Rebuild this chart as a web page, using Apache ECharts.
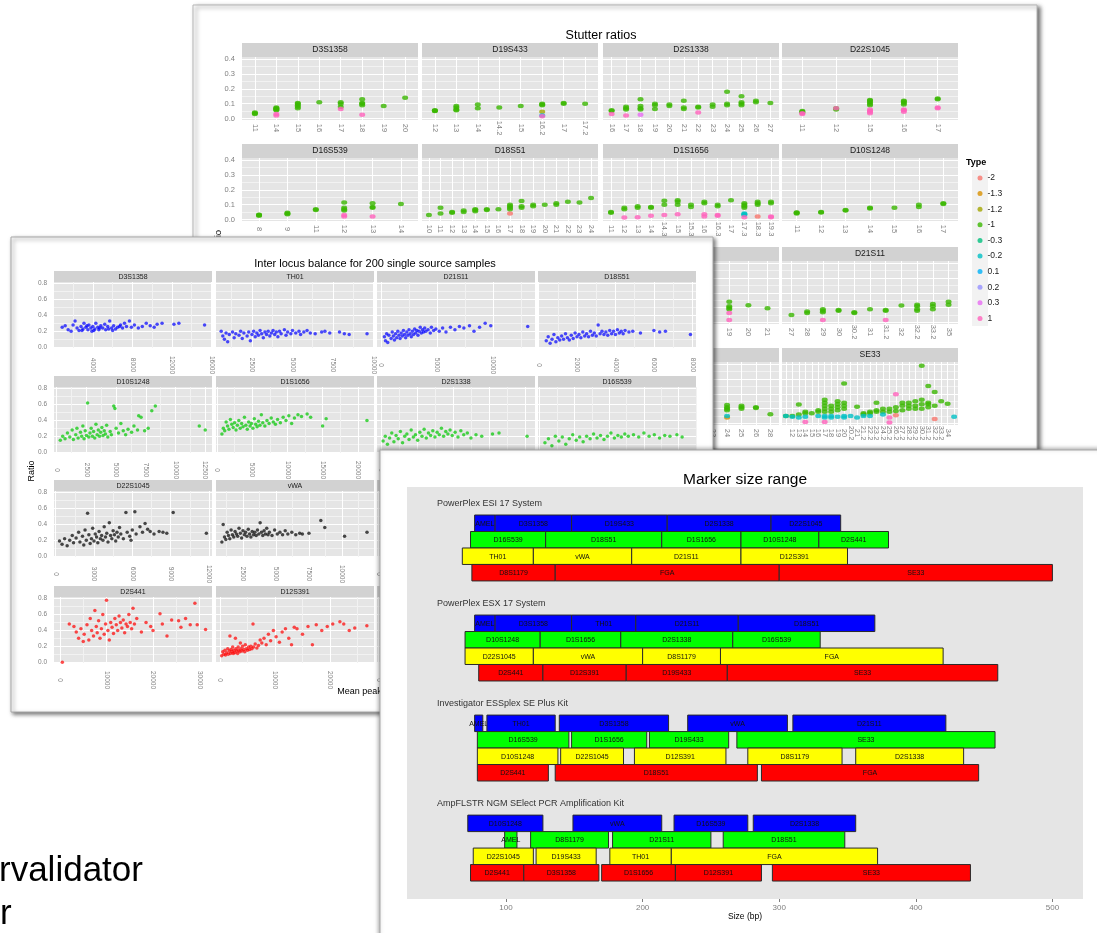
<!DOCTYPE html>
<html>
<head>
<meta charset="utf-8">
<script src="https://cdn.jsdelivr.net/npm/echarts@6/dist/echarts.min.js"></script>
<style>
  html, body { margin: 0; padding: 0; background: #fff; }
  #main { width: 1097px; height: 933px; }
</style>
</head>
<body>
<div id="main"></div>
<script>
// ---------- Stutter ratios ----------
const typeLevels = ['-2', '-1.3', '-1.2', '-1', '-0.3', '-0.2', '0.1', '0.2', '0.3', '1'];
const typeColors = ['#F8766D', '#D89000', '#A3A500', '#39B600', '#00BF7D', '#00BFC4', '#00B0F6', '#9590FF', '#E76BF3', '#FF62BC'];

// [allele, stutter type, ratio, ratio, ...]
const stD3S1358Alleles = ['11', '14', '15', '16', '17', '18', '19', '20'];
const stD3S1358 = [
  ['11', -1, 0.03, 0.035, 0.04], ['14', -1, 0.055, 0.06, 0.065, 0.07, 0.075], ['14', 1, 0.02, 0.03],
  ['15', -1, 0.07, 0.08, 0.09, 0.1, 0.105], ['16', -1, 0.11], ['17', -1, 0.08, 0.1, 0.11], ['17', 1, 0.065],
  ['18', -1, 0.09, 0.1, 0.105, 0.13], ['18', 1, 0.025], ['19', -1, 0.085], ['20', -1, 0.14]
];
const stD19S433Alleles = ['12', '13', '14', '14.2', '15', '16.2', '17', '17.2'];
const stD19S433 = [
  ['12', -1, 0.05, 0.052, 0.055], ['13', -1, 0.055, 0.06, 0.075, 0.085], ['14', -1, 0.07, 0.095],
  ['14.2', -1, 0.075], ['15', -1, 0.085], ['16.2', -1, 0.09, 0.095, 0.1], ['16.2', -1.2, 0.045],
  ['16.2', 1, 0.015], ['16.2', 0.1, 0.02], ['17', -1, 0.1, 0.105], ['17.2', -1, 0.1]
];
const stD2S1338Alleles = ['16', '17', '18', '19', '20', '21', '22', '23', '24', '25', '26', '27'];
const stD2S1338 = [
  ['16', -1, 0.05, 0.055], ['16', 1, 0.03], ['17', -1, 0.06, 0.07, 0.08], ['17', 1, 0.02],
  ['18', -1, 0.06, 0.07, 0.085, 0.13], ['18', 0.3, 0.025], ['19', -1, 0.065, 0.09, 0.1],
  ['20', -1, 0.085, 0.095], ['21', -1, 0.065, 0.075, 0.12], ['22', -1, 0.075, 0.08], ['22', 1, 0.04],
  ['23', -1, 0.08, 0.095], ['24', -1, 0.09, 0.1, 0.18], ['25', -1, 0.09, 0.1, 0.11, 0.15],
  ['26', -1, 0.11, 0.12], ['27', -1, 0.105]
];
const stD22S1045Alleles = ['11', '12', '15', '16', '17'];
const stD22S1045 = [
  ['11', -1, 0.04, 0.045, 0.05], ['11', 1, 0.03, 0.035], ['12', -1, 0.06, 0.07], ['12', 1, 0.07],
  ['15', -1, 0.09, 0.1, 0.11, 0.12, 0.125], ['15', 1, 0.035, 0.045, 0.05, 0.06],
  ['16', -1, 0.095, 0.105, 0.115, 0.12], ['16', 1, 0.045, 0.055, 0.06],
  ['17', -1, 0.13, 0.135], ['17', 1, 0.07, 0.075]
];
const stD16S539Alleles = ['8', '9', '11', '12', '13', '14'];
const stD16S539 = [
  ['8', -1, 0.025, 0.03, 0.032], ['9', -1, 0.035, 0.04, 0.045], ['11', -1, 0.065, 0.07],
  ['12', -1, 0.06, 0.07, 0.08, 0.115], ['12', 1, 0.02, 0.03], ['13', -1, 0.08, 0.085, 0.11],
  ['13', 1, 0.02], ['14', -1, 0.105]
];
const stD18S51Alleles = ['10', '11', '12', '13', '14', '15', '16', '17', '18', '19', '20', '21', '22', '23', '24'];
const stD18S51 = [
  ['10', -1, 0.03], ['11', -1, 0.04, 0.08], ['12', -1, 0.045, 0.05], ['13', -1, 0.05, 0.06],
  ['14', -1, 0.055, 0.065, 0.07], ['15', -1, 0.065, 0.07], ['16', -1, 0.07],
  ['17', -1, 0.07, 0.08, 0.09, 0.1], ['17', -2, 0.04], ['18', -1, 0.08, 0.09, 0.125],
  ['19', -1, 0.09, 0.1], ['20', -1, 0.1], ['21', -1, 0.1, 0.11], ['22', -1, 0.12],
  ['23', -1, 0.115], ['24', -1, 0.145]
];
const stD1S1656Alleles = ['11', '12', '13', '14', '14.3', '15', '15.3', '16', '16.3', '17', '17.3', '18.3', '19.3'];
const stD1S1656 = [
  ['11', -1, 0.045, 0.05], ['12', -1, 0.07, 0.08], ['12', 1, 0.013], ['13', -1, 0.08, 0.09], ['13', 1, 0.015],
  ['14', -1, 0.08, 0.085], ['14', 1, 0.025], ['14.3', -1, 0.1, 0.127], ['14.3', 1, 0.03],
  ['15', -1, 0.1, 0.12, 0.13], ['15', 1, 0.035], ['15.3', -1, 0.085, 0.1],
  ['16', -1, 0.11, 0.12], ['16', 1, 0.02, 0.035], ['16.3', -1, 0.09, 0.1], ['16.3', 1, 0.025, 0.03],
  ['17', -1, 0.13], ['17.3', -1, 0.08, 0.09, 0.1, 0.11], ['17.3', -0.2, 0.03, 0.035, 0.04], ['17.3', 1, 0.015],
  ['18.3', -1, 0.1, 0.11, 0.12], ['18.3', -2, 0.02], ['19.3', -1, 0.11, 0.12], ['19.3', 1, 0.015, 0.02]
];
const stD10S1248Alleles = ['11', '12', '13', '14', '15', '16', '17'];
const stD10S1248 = [
  ['11', -1, 0.04, 0.045, 0.047], ['12', -1, 0.048, 0.05], ['13', -1, 0.06, 0.065], ['14', -1, 0.075, 0.08],
  ['15', -1, 0.08], ['16', -1, 0.085, 0.1], ['17', -1, 0.105, 0.11]
];
const stVWAAlleles = ['13', '14', '15', '16', '17', '18', '19', '20', '21'];
const stVWA = [
  ['19', -1, 0.09, 0.1, 0.11, 0.14], ['19', 1, 0.065, 0.017], ['20', -1, 0.117], ['21', -1, 0.097]
];
const stD21S11Alleles = ['27', '28', '29', '30', '30.2', '31', '31.2', '32', '32.2', '33.2', '35'];
const stD21S11 = [
  ['27', -1, 0.05], ['28', -1, 0.065, 0.075], ['29', -1, 0.07, 0.08, 0.09], ['29', 1, 0.017],
  ['30', -1, 0.08, 0.085], ['30.2', -1, 0.065, 0.07], ['31', -1, 0.09], ['31.2', -1, 0.08, 0.085],
  ['31.2', 1, 0.017], ['32', -1, 0.115], ['32.2', -1, 0.08, 0.09, 0.11, 0.12],
  ['33.2', -1, 0.09, 0.11, 0.125], ['35', -1, 0.12, 0.14]
];
const stFGAAlleles = ['17', '18', '19', '20', '21', '22', '22.2', '23', '24', '25', '26', '28'];
const stFGA = [
  ['24', -1, 0.09, 0.1, 0.11, 0.125], ['24', -0.2, 0.05], ['24', -1.3, 0.04],
  ['25', -1, 0.1, 0.11, 0.12], ['26', -1, 0.105, 0.11], ['28', -1, 0.063]
];
const stSE33Alleles = ['11', '12', '13', '14', '15', '16', '17', '18', '19', '20', '20.2', '21', '21.2', '22.2',
  '23.2', '24.2', '25.2', '26.2', '27.2', '28.2', '29.2', '30.2', '31.2', '32.2', '33.2', '34', '35'];
const stSE33 = [
  ['11', -1, 0.05], ['11', -0.2, 0.05], ['12', -1, 0.05], ['12', -0.2, 0.045],
  ['13', -1, 0.06, 0.128], ['13', -0.2, 0.04], ['14', -1, 0.07, 0.08], ['14', -0.2, 0.045], ['14', 1, 0.01],
  ['15', -1, 0.07], ['16', -1, 0.08, 0.09], ['16', -0.2, 0.05],
  ['17', -1, 0.08, 0.1, 0.12, 0.14, 0.16], ['17', -0.2, 0.04, 0.05], ['17', 1, 0.01],
  ['18', -1, 0.08, 0.1, 0.12], ['18', -0.2, 0.04, 0.05], ['19', -1, 0.09, 0.11, 0.13, 0.15], ['19', -0.2, 0.045],
  ['20', -1, 0.1, 0.12, 0.14, 0.27], ['20', -0.2, 0.04, 0.05], ['20.2', -0.2, 0.05],
  ['21', -1, 0.113], ['21', -0.2, 0.04], ['21.2', -1, 0.06, 0.07], ['21.2', -0.2, 0.05],
  ['22.2', -1, 0.07, 0.08], ['22.2', -0.2, 0.05], ['23.2', -1, 0.08, 0.09, 0.14],
  ['24.2', -1, 0.08, 0.1], ['24.2', -0.2, 0.06], ['25.2', -1, 0.08, 0.1], ['25.2', 1, 0.007, 0.04],
  ['26.2', -1, 0.085, 0.11], ['26.2', -2, 0.055], ['26.2', 1, 0.197], ['27.2', -1, 0.09, 0.12, 0.14],
  ['28.2', -1, 0.1, 0.12, 0.14], ['29.2', -1, 0.1, 0.12, 0.15], ['30.2', -1, 0.1, 0.13, 0.16, 0.39],
  ['31.2', -1, 0.11, 0.13, 0.14, 0.253], ['32.2', -1, 0.12, 0.212], ['32.2', -2, 0.03],
  ['33.2', -1, 0.15], ['34', -1, 0.134], ['35', -0.2, 0.045]
];
// [name, row, col, alleles, points]
const stutterFacets = [
  ['D3S1358', 0, 0, stD3S1358Alleles, stD3S1358], ['D19S433', 0, 1, stD19S433Alleles, stD19S433],
  ['D2S1338', 0, 2, stD2S1338Alleles, stD2S1338], ['D22S1045', 0, 3, stD22S1045Alleles, stD22S1045],
  ['D16S539', 1, 0, stD16S539Alleles, stD16S539], ['D18S51', 1, 1, stD18S51Alleles, stD18S51],
  ['D1S1656', 1, 2, stD1S1656Alleles, stD1S1656], ['D10S1248', 1, 3, stD10S1248Alleles, stD10S1248],
  ['vWA', 2, 2, stVWAAlleles, stVWA], ['D21S11', 2, 3, stD21S11Alleles, stD21S11],
  ['FGA', 3, 2, stFGAAlleles, stFGA], ['SE33', 3, 3, stSE33Alleles, stSE33]
];
const stutterYTicks = [0, 0.1, 0.2, 0.3, 0.4];

// ---------- Inter locus balance ----------
const ilD3S1358 = [[900,0.25],[1200,0.27],[1500,0.22],[1800,0.2],[2000,0.28],[2200,0.33],[2400,0.24],[2600,0.21],[2800,0.26],[3000,0.23],[3100,0.3],[3300,0.25],[3500,0.22],[3600,0.28],[3800,0.24],[3900,0.2],[4000,0.26],[4200,0.23],[4300,0.3],[4500,0.25],[4600,0.22],[4800,0.27],[5000,0.24],[5200,0.29],[5300,0.22],[5500,0.26],[5700,0.33],[5900,0.24],[6100,0.27],[6300,0.23],[6500,0.25],[6800,0.28],[7000,0.24],[7200,0.3],[7400,0.26],[7700,0.33],[7900,0.25],[8200,0.28],[8600,0.24],[9000,0.26],[9400,0.3],[9800,0.27],[10200,0.25],[10500,0.29],[11000,0.3],[12200,0.29],[12700,0.3],[15300,0.28],[2900,0.21],[3400,0.27],[4100,0.21],[4700,0.24],[5600,0.23],[6000,0.21],[6700,0.26]];
const ilTH01 = [[600,0.2],[700,0.14],[800,0.1],[900,0.18],[1000,0.07],[1100,0.16],[1300,0.19],[1400,0.12],[1500,0.17],[1700,0.15],[1800,0.2],[1900,0.11],[2000,0.18],[2200,0.14],[2300,0.19],[2400,0.08],[2500,0.16],[2600,0.2],[2700,0.13],[2800,0.18],[2900,0.15],[3000,0.21],[3100,0.17],[3200,0.12],[3300,0.19],[3400,0.16],[3500,0.2],[3600,0.14],[3700,0.18],[3800,0.21],[3900,0.16],[4000,0.19],[4100,0.13],[4200,0.2],[4300,0.17],[4500,0.22],[4600,0.15],[4700,0.19],[4900,0.17],[5000,0.21],[5200,0.18],[5400,0.2],[5500,0.16],[5700,0.19],[5900,0.21],[6100,0.18],[6400,0.17],[6800,0.19],[7000,0.2],[7300,0.18],[7900,0.19],[8200,0.17],[8500,0.16],[9600,0.17]];
const ilD21S11 = [[300,0.13],[400,0.08],[500,0.17],[600,0.06],[700,0.15],[900,0.11],[1000,0.19],[1100,0.14],[1200,0.09],[1300,0.17],[1400,0.12],[1500,0.2],[1600,0.15],[1700,0.11],[1800,0.18],[1900,0.14],[2000,0.21],[2100,0.16],[2200,0.12],[2300,0.19],[2400,0.15],[2500,0.22],[2600,0.17],[2700,0.13],[2800,0.2],[2900,0.16],[3000,0.23],[3100,0.18],[3200,0.21],[3300,0.15],[3400,0.2],[3500,0.25],[3600,0.18],[3700,0.22],[3800,0.19],[3900,0.24],[4000,0.2],[4200,0.22],[4400,0.18],[4500,0.25],[4700,0.21],[4900,0.23],[5200,0.2],[5500,0.24],[5800,0.19],[6200,0.25],[6600,0.22],[7000,0.26],[7400,0.24],[7900,0.27],[8300,0.2],[8800,0.25],[9300,0.3],[9800,0.27],[13100,0.26]];
const ilD18S51 = [[400,0.08],[500,0.13],[600,0.05],[700,0.1],[800,0.16],[900,0.07],[1000,0.12],[1100,0.09],[1200,0.14],[1300,0.1],[1400,0.17],[1500,0.12],[1600,0.09],[1700,0.15],[1800,0.11],[1900,0.18],[2000,0.13],[2100,0.16],[2200,0.12],[2300,0.19],[2400,0.14],[2500,0.17],[2600,0.13],[2700,0.2],[2800,0.15],[2900,0.18],[3000,0.14],[3100,0.28],[3200,0.17],[3300,0.2],[3400,0.16],[3500,0.19],[3600,0.15],[3700,0.21],[3800,0.17],[3900,0.2],[4000,0.16],[4100,0.22],[4200,0.18],[4300,0.2],[4400,0.17],[4500,0.21],[4700,0.19],[4900,0.2],[5300,0.18],[6000,0.21],[6300,0.19],[6600,0.2],[7900,0.16]];
const ilD10S1248 = [[300,0.15],[500,0.2],[700,0.17],[900,0.24],[1100,0.19],[1300,0.28],[1400,0.16],[1600,0.22],[1700,0.3],[1800,0.18],[2000,0.25],[2100,0.2],[2200,0.33],[2300,0.17],[2400,0.27],[2500,0.21],[2600,0.62],[2700,0.19],[2800,0.24],[2900,0.3],[3000,0.2],[3100,0.26],[3200,0.18],[3300,0.35],[3400,0.22],[3500,0.28],[3600,0.2],[3700,0.25],[3800,0.31],[3900,0.21],[4000,0.27],[4100,0.23],[4200,0.34],[4300,0.19],[4500,0.26],[4600,0.22],[4800,0.58],[4900,0.55],[5000,0.3],[5200,0.24],[5400,0.36],[5600,0.27],[5800,0.22],[6000,0.29],[6300,0.25],[6500,0.33],[6800,0.28],[6900,0.46],[7100,0.44],[7400,0.27],[7700,0.3],[8000,0.52],[8300,0.58],[12000,0.33],[12500,0.28]];
const ilD1S1656 = [[700,0.23],[900,0.3],[1100,0.27],[1300,0.38],[1500,0.33],[1700,0.29],[1900,0.41],[2100,0.35],[2300,0.31],[2500,0.37],[2700,0.28],[2900,0.34],[3100,0.4],[3300,0.3],[3500,0.36],[3700,0.32],[3900,0.44],[4100,0.34],[4300,0.29],[4500,0.38],[4700,0.33],[4900,0.36],[5100,0.3],[5300,0.42],[5500,0.35],[5700,0.32],[5900,0.39],[6100,0.34],[6300,0.47],[6500,0.37],[6800,0.33],[7100,0.4],[7400,0.36],[7700,0.43],[8000,0.38],[8300,0.35],[8600,0.41],[9000,0.37],[9400,0.44],[9800,0.4],[10200,0.46],[10600,0.36],[11000,0.43],[11500,0.47],[12000,0.45],[12800,0.48],[13300,0.44],[15000,0.33],[15500,0.42],[21300,0.4]];
const ilD2S1338 = [[300,0.14],[600,0.2],[900,0.1],[1200,0.18],[1500,0.24],[1800,0.13],[2100,0.21],[2400,0.17],[2700,0.26],[3000,0.12],[3300,0.2],[3600,0.23],[3900,0.16],[4200,0.28],[4500,0.19],[4800,0.22],[5100,0.15],[5400,0.25],[5700,0.2],[6000,0.29],[6300,0.18],[6600,0.24],[6900,0.21],[7200,0.27],[7500,0.19],[7800,0.25],[8100,0.22],[8400,0.3],[8700,0.2],[9000,0.26],[9300,0.23],[9600,0.28],[9900,0.21],[10300,0.25],[10700,0.19],[11100,0.27],[11500,0.22],[12000,0.24],[12500,0.18],[13200,0.22],[14000,0.2],[15500,0.23],[16400,0.24],[20300,0.2]];
const ilD16S539 = [[300,0.12],[500,0.17],[700,0.08],[900,0.2],[1100,0.14],[1300,0.19],[1500,0.1],[1700,0.17],[1900,0.22],[2100,0.15],[2300,0.19],[2500,0.13],[2700,0.2],[2900,0.17],[3100,0.23],[3300,0.18],[3500,0.21],[3700,0.16],[3900,0.2],[4100,0.24],[4300,0.18],[4500,0.21],[4700,0.19],[4900,0.23],[5100,0.2],[5400,0.22],[5700,0.19],[6000,0.24],[6300,0.2],[6600,0.22],[6900,0.18],[7200,0.21],[7500,0.2],[7900,0.22],[8200,0.19]];
const ilD22S1045 = [[300,0.19],[500,0.15],[700,0.22],[900,0.13],[1100,0.2],[1300,0.26],[1400,0.17],[1600,0.23],[1800,0.3],[1900,0.18],[2100,0.25],[2200,0.14],[2300,0.33],[2400,0.2],[2500,0.54],[2600,0.27],[2700,0.16],[2800,0.22],[2900,0.35],[3000,0.19],[3100,0.28],[3200,0.24],[3300,0.17],[3400,0.31],[3500,0.22],[3600,0.26],[3700,0.2],[3800,0.37],[3900,0.24],[4000,0.29],[4100,0.18],[4200,0.42],[4300,0.26],[4400,0.22],[4500,0.32],[4600,0.27],[4700,0.19],[4800,0.3],[4900,0.24],[5000,0.36],[5100,0.28],[5300,0.22],[5500,0.55],[5600,0.3],[5800,0.25],[5900,0.2],[6000,0.33],[6200,0.56],[6300,0.28],[6600,0.37],[6800,0.3],[7000,0.41],[7200,0.34],[7400,0.31],[7700,0.28],[8100,0.31],[8400,0.3],[8700,0.29],[9200,0.55],[11800,0.29]];
const ilVWA = [[900,0.18],[1000,0.4],[1100,0.24],[1200,0.21],[1300,0.3],[1400,0.26],[1500,0.22],[1600,0.33],[1700,0.27],[1800,0.24],[1900,0.31],[2000,0.28],[2100,0.25],[2200,0.35],[2300,0.29],[2400,0.23],[2500,0.32],[2600,0.27],[2700,0.3],[2800,0.25],[2900,0.34],[3000,0.28],[3100,0.24],[3200,0.31],[3300,0.27],[3400,0.3],[3500,0.26],[3600,0.33],[3700,0.28],[3800,0.42],[3900,0.3],[4000,0.26],[4100,0.32],[4200,0.28],[4300,0.35],[4400,0.27],[4500,0.3],[4700,0.26],[4900,0.33],[5100,0.28],[5300,0.3],[5500,0.27],[5700,0.32],[5900,0.28],[6200,0.3],[6500,0.27],[6800,0.29],[7000,0.28],[7500,0.29],[8400,0.45],[8700,0.36],[10200,0.25],[11900,0.3]];
const ilD2S441 = [[500,0.0],[2000,0.48],[3000,0.45],[3500,0.38],[4000,0.3],[4500,0.42],[5000,0.26],[5200,0.35],[5800,0.47],[6200,0.28],[6500,0.55],[6800,0.4],[7200,0.33],[7500,0.65],[7800,0.45],[8000,0.37],[8300,0.52],[8600,0.3],[8900,0.42],[9200,0.6],[9500,0.35],[9800,0.48],[10000,0.78],[10300,0.4],[10600,0.28],[10900,0.5],[11200,0.44],[11500,0.36],[11800,0.55],[12100,0.47],[12400,0.4],[12700,0.58],[13000,0.5],[13300,0.43],[13600,0.53],[13900,0.37],[14200,0.48],[14500,0.45],[14800,0.6],[15100,0.5],[15400,0.42],[15700,0.68],[16000,0.48],[16500,0.55],[17500,0.38],[18500,0.5],[19500,0.45],[20000,0.4],[21500,0.61],[22000,0.48],[23000,0.33],[24000,0.53],[25500,0.52],[26000,0.44],[27000,0.55],[28000,0.47],[29000,0.74],[29500,0.47],[31300,0.41]];
const ilD12S391 = [[300,0.08],[500,0.13],[700,0.1],[900,0.15],[1000,0.09],[1200,0.12],[1400,0.17],[1500,0.1],[1700,0.14],[1800,0.33],[1900,0.11],[2000,0.16],[2200,0.13],[2300,0.19],[2400,0.11],[2500,0.15],[2700,0.12],[2800,0.3],[2900,0.17],[3000,0.14],[3200,0.11],[3300,0.19],[3400,0.15],[3600,0.13],[3700,0.24],[3800,0.17],[4000,0.14],[4100,0.2],[4300,0.16],[4500,0.13],[4600,0.22],[4800,0.17],[5000,0.15],[5200,0.19],[5400,0.16],[5600,0.2],[5800,0.17],[6000,0.48],[6100,0.19],[6400,0.23],[6700,0.18],[7000,0.21],[7300,0.28],[7600,0.24],[8000,0.3],[8400,0.22],[8800,0.35],[9200,0.27],[9700,0.4],[10200,0.32],[10800,0.25],[11300,0.38],[11900,0.42],[12500,0.3],[13000,0.22],[13500,0.44],[14000,0.42],[15000,0.35],[16000,0.45],[16800,0.22],[17500,0.47],[18500,0.4],[19500,0.45],[20500,0.48],[21800,0.51],[22500,0.48],[23500,0.4],[24500,0.43],[26700,0.46]];

const ilLoci = ['D3S1358', 'TH01', 'D21S11', 'D18S51', 'D10S1248', 'D1S1656', 'D2S1338', 'D16S539',
  'D22S1045', 'vWA', 'D8S1179', 'FGA', 'D2S441', 'D12S391', 'D19S433', 'SE33'];
const ilPoints = [ilD3S1358, ilTH01, ilD21S11, ilD18S51, ilD10S1248, ilD1S1656, ilD2S1338, ilD16S539,
  ilD22S1045, ilVWA, [], [], ilD2S441, ilD12S391, [], []];
const ilXMin = [70, 280, -360, -30, -230, -140, -550, -100, -130, 455, -100, -100, -1290, -730, -100, -100];
const ilXMax = [16050, 10030, 13750, 8190, 13070, 22300, 21400, 9000, 12240, 12430, 10000, 10000, 32680, 28000, 10000, 10000];
const ilXStep = [4000, 2500, 5000, 2000, 2500, 5000, 5000, 2000, 3000, 2500, 2500, 2500, 10000, 10000, 2500, 2500];
const ilYTicks = [0, 0.2, 0.4, 0.6, 0.8];
const ilDyeColors = ['#0000FF', '#00C800', '#000000', '#FF0000'];

// ---------- Marker size range ----------
const kitNames = ['PowerPlex ESI 17 System', 'PowerPlex ESX 17 System', 'Investigator ESSplex SE Plus Kit',
  'AmpFLSTR NGM SElect PCR Amplification Kit'];
const dyeColors = ['#0000FF', '#00FF00', '#FFFF00', '#FF0000'];
// [marker, start bp, end bp]
const esiBlue = [['AMEL', 77, 92], ['D3S1358', 92, 148], ['D19S433', 148, 218], ['D2S1338', 218, 294], ['D22S1045', 294, 345]];
const esiGreen = [['D16S539', 74, 129], ['D18S51', 129, 214], ['D1S1656', 214, 272], ['D10S1248', 272, 329], ['D2S441', 329, 380]];
const esiYellow = [['TH01', 68, 120], ['vWA', 120, 192], ['D21S11', 192, 272], ['D12S391', 272, 350]];
const esiRed = [['D8S1179', 75, 136], ['FGA', 136, 300], ['SE33', 300, 500]];
const esxBlue = [['AMEL', 77, 92], ['D3S1358', 92, 148], ['TH01', 148, 195], ['D21S11', 195, 270], ['D18S51', 270, 370]];
const esxGreen = [['D10S1248', 70, 125], ['D1S1656', 125, 184], ['D2S1338', 184, 266], ['D16S539', 266, 330]];
const esxYellow = [['D22S1045', 70, 120], ['vWA', 120, 200], ['D8S1179', 200, 257], ['FGA', 257, 420]];
const esxRed = [['D2S441', 80, 127], ['D12S391', 127, 188], ['D19S433', 188, 262], ['SE33', 262, 460]];
const essBlue = [['AMEL', 77, 83], ['TH01', 86, 136], ['D3S1358', 139, 219], ['vWA', 233, 306], ['D21S11', 310, 422]];
const essGreen = [['D16S539', 79, 146], ['D1S1656', 148, 203], ['D19S433', 205, 263], ['SE33', 269, 458]];
const essYellow = [['D10S1248', 79, 138], ['D22S1045', 140, 186], ['D12S391', 194, 261], ['D8S1179', 277, 346], ['D2S1338', 356, 435]];
const essRed = [['D2S441', 79, 131], ['D18S51', 136, 284], ['FGA', 287, 446]];
const ngmBlue = [['D10S1248', 72, 127], ['vWA', 149, 214], ['D16S539', 223, 277], ['D2S1338', 281, 356]];
const ngmGreen = [['AMEL', 99, 108], ['D8S1179', 118, 175], ['D21S11', 178, 250], ['D18S51', 259, 348]];
const ngmYellow = [['D22S1045', 76, 120], ['D19S433', 122, 166], ['TH01', 176, 221], ['FGA', 221, 372]];
const ngmRed = [['D2S441', 74, 113], ['D3S1358', 113, 168], ['D1S1656', 170, 224], ['D12S391', 224, 287], ['SE33', 295, 440]];
const kitRows = [
  [esiBlue, esiGreen, esiYellow, esiRed],
  [esxBlue, esxGreen, esxYellow, esxRed],
  [essBlue, essGreen, essYellow, essRed],
  [ngmBlue, ngmGreen, ngmYellow, ngmRed]
];
const sizeTicks = [100, 200, 300, 400, 500];

// ---------- build ----------
const FONT = '"Liberation Sans", Arial, sans-serif';
const grid = [], xAxis = [], yAxis = [], series = [], graphic = [];

// tick values at half steps; majors get white lines, minors lighter
function gridLines(min, max, step) {
  const half = step / 2;
  const vals = [];
  for (let k = Math.ceil(min / half - 1e-9); k * half <= max + 1e-9; k++) vals.push(+(k * half).toFixed(6));
  const majors = vals.filter(v => Math.abs(v / step - Math.round(v / step)) < 1e-6);
  const firstMajor = majors.length && vals[0] === majors[0];
  return { vals, majors, colors: firstMajor ? ['#FFFFFF', '#F2F2F2'] : ['#F2F2F2', '#FFFFFF'] };
}

function addText(zlevel, x, y, text, size, opts) {
  graphic.push(Object.assign({
    type: 'text', zlevel, z: 6, x, y, silent: true,
    style: Object.assign({ text, fontSize: size, fontFamily: FONT, fill: '#1A1A1A', align: 'center', verticalAlign: 'middle' }, opts && opts.style)
  }, opts && opts.el));
}

// panel backgrounds (three overlapping screenshots)
graphic.push({ type: 'rect', zlevel: 0, z: 0, silent: true, shape: { x: 193, y: 5, width: 844, height: 444 },
  style: { fill: '#fff', stroke: '#B5B5B5', lineWidth: 1, shadowBlur: 4, shadowOffsetX: 3, shadowOffsetY: 2, shadowColor: 'rgba(0,0,0,0.55)' } });
graphic.push({ type: 'rect', zlevel: 1, z: 0, silent: true, shape: { x: 11, y: 237, width: 702, height: 475 },
  style: { fill: '#fff', stroke: '#A8A8A8', lineWidth: 1, shadowBlur: 4, shadowOffsetX: 2, shadowOffsetY: 2, shadowColor: 'rgba(0,0,0,0.55)' } });
graphic.push({ type: 'rect', zlevel: 2, z: 0, silent: true, shape: { x: 380, y: 450, width: 740, height: 500 },
  style: { fill: '#fff', stroke: '#A8A8A8', lineWidth: 1, shadowBlur: 4, shadowOffsetX: -1, shadowOffsetY: -1, shadowColor: 'rgba(0,0,0,0.35)' } });

// slide text peeking out at bottom left
addText(0, -1, 871, 'rvalidator', 35, { style: { align: 'left', fill: '#000' } });
addText(0, 0, 914, 'r', 35, { style: { align: 'left', fill: '#000' } });

// ----- stutter facets (zlevel 0) -----
const stColLeft = [242, 422, 603, 782], stColW = 176;
const stStripTop = [43, 144, 247, 348], stStripH = 14, stPanelH = 63;
addText(0, 601, 36, 'Stutter ratios', 12.5, { style: { fill: '#000' } });
addText(0, 218, 241, 'Ratio', 9.5, { el: { rotation: Math.PI / 2 }, style: { fill: '#000' } });

stutterFacets.forEach(([name, row, col, alleles, pts]) => {
  const gi = grid.length;
  const left = stColLeft[col], top = stStripTop[row] + stStripH;
  grid.push({ left, top, width: stColW, height: stPanelH, show: true, backgroundColor: '#E5E5E5', borderWidth: 0,
    zlevel: 0, z: 2, outerBoundsMode: 'none', containLabel: false });
  const idx = alleles.map((a, i) => i);
  xAxis.push({ type: 'value', gridIndex: gi, zlevel: 0, z: 3, min: -0.6, max: alleles.length - 0.4,
    axisLine: { show: false, onZero: false }, axisTick: { show: false, customValues: idx },
    axisLabel: { customValues: idx, rotate: -90, align: 'center', verticalAlign: 'middle', margin: 8,
      fontSize: 7.5, fontFamily: FONT, color: '#7F7F7F', formatter: v => alleles[Math.round(v)] || '' },
    splitLine: { show: true, lineStyle: { color: '#FFFFFF', width: 1 } } });
  const yg = gridLines(-0.01, 0.415, 0.1);
  yAxis.push({ type: 'value', gridIndex: gi, zlevel: 0, z: 3, min: -0.01, max: 0.415,
    axisLine: { show: false, onZero: false }, axisTick: { show: false, customValues: yg.vals },
    axisLabel: { show: col === 0, customValues: stutterYTicks, margin: 7, fontSize: 7.5, fontFamily: FONT,
      color: '#7F7F7F', formatter: v => v.toFixed(1) },
    splitLine: { show: true, lineStyle: { color: yg.colors, width: 1 } } });
  typeLevels.forEach((t, ti) => {
    const data = [];
    pts.forEach(p => {
      if (String(p[1]) !== t) return;
      for (let k = 2; k < p.length; k++) data.push([alleles.indexOf(p[0]), p[k]]);
    });
    series.push({ type: 'scatter', name: t, xAxisIndex: gi, yAxisIndex: gi, zlevel: 0, z: 4, silent: true,
      data, symbolSize: [6, 4.5], itemStyle: { color: typeColors[ti], opacity: 0.8 } });
  });
  graphic.push({ type: 'rect', zlevel: 0, z: 5, silent: true,
    shape: { x: left, y: stStripTop[row], width: stColW, height: stStripH }, style: { fill: '#D2D2D2' } });
  addText(0, left + stColW / 2, stStripTop[row] + stStripH / 2, name, 8.5);
});

// legend for stutter type
graphic.push({ type: 'rect', zlevel: 0, z: 5, silent: true, shape: { x: 972, y: 170, width: 16, height: 156 },
  style: { fill: '#F2F2F2' } });
addText(0, 966, 163, 'Type', 9, { style: { align: 'left', fontWeight: 'bold', fill: '#000' } });

// ----- inter locus facets (zlevel 1) -----
const ilColLeft = [54, 216, 377, 538], ilColW = 158;
const ilStripTop = [271, 376, 480, 586], ilStripH = 11, ilPanelH = 66;
addText(1, 375, 264, 'Inter locus balance for 200 single source samples', 11, { style: { fill: '#000' } });
addText(1, 32, 471, 'Ratio', 9, { el: { rotation: Math.PI / 2 }, style: { fill: '#000' } });
addText(1, 373, 692, 'Mean peak height', 9, { style: { fill: '#000' } });

ilLoci.forEach((name, i) => {
  const row = Math.floor(i / 4), col = i % 4;
  const gi = grid.length;
  const left = ilColLeft[col], top = ilStripTop[row] + ilStripH;
  grid.push({ left, top, width: ilColW, height: ilPanelH, show: true, backgroundColor: '#E5E5E5', borderWidth: 0,
    zlevel: 1, z: 2, outerBoundsMode: 'none', containLabel: false });
  const xg = gridLines(ilXMin[i], ilXMax[i], ilXStep[i]);
  xAxis.push({ type: 'value', gridIndex: gi, zlevel: 1, z: 3, min: ilXMin[i], max: ilXMax[i],
    axisLine: { show: false, onZero: false }, axisTick: { show: false, customValues: xg.vals },
    axisLabel: { customValues: xg.majors, rotate: -90, align: 'center', verticalAlign: 'middle', margin: 17,
      fontSize: 6.5, fontFamily: FONT, color: '#7F7F7F', formatter: v => String(v) },
    splitLine: { show: true, lineStyle: { color: xg.colors, width: 1 } } });
  const yg = gridLines(-0.01, 0.82, 0.2);
  yAxis.push({ type: 'value', gridIndex: gi, zlevel: 1, z: 3, min: -0.01, max: 0.82,
    axisLine: { show: false, onZero: false }, axisTick: { show: false, customValues: yg.vals },
    axisLabel: { show: col === 0, customValues: ilYTicks, margin: 7, fontSize: 6.5, fontFamily: FONT,
      color: '#7F7F7F', formatter: v => v.toFixed(1) },
    splitLine: { show: true, lineStyle: { color: yg.colors, width: 1 } } });
  series.push({ type: 'scatter', name: 'il' + name, xAxisIndex: gi, yAxisIndex: gi, zlevel: 1, z: 4, silent: true,
    data: ilPoints[i], symbolSize: 3.5, itemStyle: { color: ilDyeColors[row], opacity: 0.7 } });
  graphic.push({ type: 'rect', zlevel: 1, z: 5, silent: true,
    shape: { x: left, y: ilStripTop[row], width: ilColW, height: ilStripH }, style: { fill: '#D2D2D2' } });
  addText(1, left + ilColW / 2, ilStripTop[row] + ilStripH / 2 + 0.5, name, 7);
});

// ----- marker size range (zlevel 2) -----
const mi = grid.length;
grid.push({ left: 407, top: 487, width: 676, height: 412, show: true, backgroundColor: '#E5E5E5', borderWidth: 0,
  zlevel: 2, z: 2, outerBoundsMode: 'none', containLabel: false });
xAxis.push({ type: 'value', gridIndex: mi, zlevel: 2, z: 3, min: 27.5, max: 522.4, position: 'bottom',
  axisLine: { show: false, onZero: false },
  axisTick: { show: true, customValues: sizeTicks, length: 3, lineStyle: { color: '#7F7F7F' } },
  axisLabel: { customValues: sizeTicks, margin: 5, fontSize: 8, fontFamily: FONT, color: '#7F7F7F' },
  splitLine: { show: false } });
yAxis.push({ type: 'value', gridIndex: mi, zlevel: 2, z: 3, min: 0, max: 25, inverse: true, show: false,
  axisLine: { onZero: false }, splitLine: { show: false } });
addText(2, 745, 480, 'Marker size range', 15.5, { style: { fill: '#000' } });
addText(2, 745, 917, 'Size (bp)', 8.5, { style: { fill: '#000' } });

const kitTop = k => 1.7 + 6.07 * k;
const markerData = [], markerLabels = [];
kitRows.forEach((rows, k) => rows.forEach((row, r) => row.forEach(m => {
  markerData.push([m[1], m[2], kitTop(k) + r, r]);
  markerLabels.push(m[0]);
})));
series.push({ type: 'custom', name: 'markers', xAxisIndex: mi, yAxisIndex: mi, zlevel: 2, z: 4, silent: true,
  encode: { x: [0, 1], y: 2 }, data: markerData,
  renderItem: (params, api) => {
    const p0 = api.coord([api.value(0), api.value(2)]);
    const p1 = api.coord([api.value(1), api.value(2) + 1]);
    const w = p1[0] - p0[0], h = p1[1] - p0[1];
    return { type: 'group', children: [
      { type: 'rect', shape: { x: p0[0], y: p0[1], width: w, height: h },
        style: { fill: dyeColors[api.value(3)], stroke: '#2A2A2A', lineWidth: 1 } },
      { type: 'text', x: p0[0] + w / 2, y: p0[1] + h / 2 + 0.5,
        style: { text: markerLabels[params.dataIndex], fontSize: 7, fontFamily: FONT, fill: '#111',
          align: 'center', verticalAlign: 'middle' } }
    ] };
  } });
series.push({ type: 'custom', name: 'kits', xAxisIndex: mi, yAxisIndex: mi, zlevel: 2, z: 4, silent: true,
  encode: { x: 0, y: 1 }, data: kitNames.map((n, k) => [49.5, kitTop(k) - 0.72]),
  renderItem: (params, api) => {
    const p = api.coord([api.value(0), api.value(1)]);
    return { type: 'text', x: p[0], y: p[1],
      style: { text: kitNames[params.dataIndex], fontSize: 9, fontFamily: FONT, fill: '#333',
        align: 'left', verticalAlign: 'middle' } };
  } });

const chart = echarts.init(document.getElementById('main'));
chart.setOption({
  backgroundColor: '#FFFFFF',
  animation: false,
  grid, xAxis, yAxis, series,
  graphic: { elements: graphic },
  legend: {
    zlevel: 0, z: 6, orient: 'vertical', left: 977.5, top: 172, padding: 0,
    itemWidth: 5, itemHeight: 5, itemGap: 3.6, icon: 'circle', selectedMode: false,
    data: typeLevels,
    textStyle: { fontSize: 8.5, fontFamily: FONT, color: '#1A1A1A', lineHeight: 12 }
  }
});
</script>
</body>
</html>
